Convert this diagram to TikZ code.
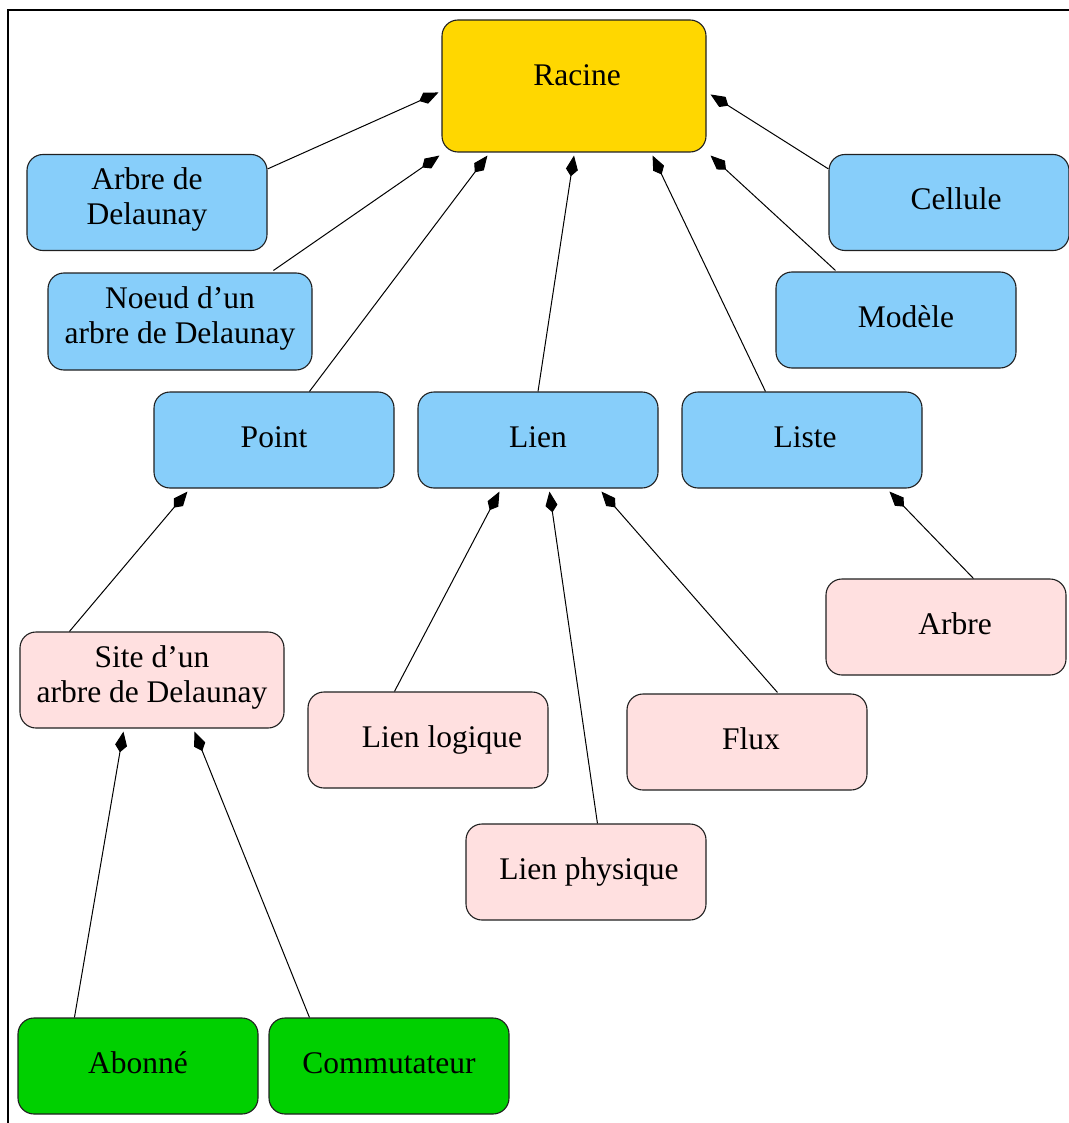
\documentclass[tikz,border=0pt]{standalone}
\usepackage{fontspec}
\setmainfont{Liberation Serif}
\usetikzlibrary{arrows.meta,calc}
\definecolor{cgold}{HTML}{FFD700}
\definecolor{cblue}{HTML}{87CEFA}
\definecolor{cpink}{HTML}{FFE0E0}
\definecolor{cgreen}{HTML}{00D000}
\definecolor{cborder}{HTML}{202020}
\tikzset{
  box/.style={draw=cborder, line width=1.1pt, rounded corners=16pt, inner sep=0pt,
    minimum width=240pt, minimum height=96pt, align=center,
    font=\fontsize{31.5}{35}\selectfont},
  one/.style={text height=22pt, text depth=8pt},
  two/.style={text depth=12pt},
  bluebox/.style={box, fill=cblue},
  pinkbox/.style={box, fill=cpink},
  greenbox/.style={box, fill=cgreen},
  goldbox/.style={box, fill=cgold},
  conn/.style={draw=black, line width=1pt, -{Kite[length=21pt,width=12pt,inset=7pt]}},
  frameline/.style={draw=black, line width=1.3pt}
}
\begin{document}
\begin{tikzpicture}[x=1pt,y=-1pt]
\useasboundingbox (0,0) rectangle (1068,1123);
\coordinate (fa) at (8,1130);
\coordinate (fb) at (8,10);
\coordinate (fc) at (1075,10);
\draw[frameline] (fa) -- (fb) -- (fc);

\node[goldbox, text height=22pt, text depth=22pt, minimum width=264pt, minimum height=132pt] (racine) at (574,86) {\hspace*{6pt}Racine};
\node[bluebox, two] (arbreD) at (147,202.5) {Arbre de\\Delaunay};
\node[bluebox, two, minimum width=264pt, minimum height=97pt] (noeud) at (180,321.5) {Noeud d’un\\arbre de Delaunay};
\node[bluebox, one] (point) at (274,440) {Point};
\node[bluebox, one] (lien) at (538,440) {Lien};
\node[bluebox, one] (liste) at (802,440) {\hspace*{6pt}Liste};
\node[bluebox, one] (cellule) at (949,202.5) {\hspace*{14pt}Cellule};
\node[bluebox, one] (modele) at (896,320) {\hspace*{20pt}Modèle};
\node[pinkbox, two, minimum width=264pt] (site) at (152,680) {Site d’un\\arbre de Delaunay};
\node[pinkbox, one] (arbre) at (946,627) {\hspace*{18pt}Arbre};
\node[pinkbox, one] (llog) at (428,740) {\hspace*{28pt}Lien logique};
\node[pinkbox, one] (flux) at (747,742) {\hspace*{8pt}Flux};
\node[pinkbox, one] (lphys) at (586,872) {\hspace*{6pt}Lien physique};
\node[greenbox, one] (abonne) at (138,1066) {Abonné};
\node[greenbox, one] (comm) at (389,1066) {Commutateur};

\draw[conn] ($(arbreD.north east)+(0,15)$) -- ($(racine.north west)+(-3,73)$);
\draw[conn] ($(noeud.north west)+(226,-2)$) -- ($(racine.south west)+(-2,3)$);
\draw[conn] ($(point.north west)+(156,0)$) -- ($(racine.south west)+(46,3)$);
\draw[conn] (lien.north) -- ($(racine.south)+(0,3)$);
\draw[conn] ($(liste.north west)+(84,0)$) -- ($(racine.south east)+(-54,3)$);
\draw[conn] ($(modele.north west)+(60,-1)$) -- ($(racine.south east)+(4,3)$);
\draw[conn] ($(cellule.north west)+(0,15)$) -- ($(racine.north east)+(4,75)$);
\draw[conn] ($(site.north west)+(50,0)$) -- ($(point.south west)+(34,3)$);
\draw[conn] ($(llog.north west)+(87,0)$) -- ($(lien.south west)+(82,3)$);
\draw[conn] ($(lphys.north west)+(132,0)$) -- ($(lien.south west)+(132,3)$);
\draw[conn] ($(flux.north west)+(151,-1)$) -- ($(lien.south west)+(184,3)$);
\draw[conn] ($(arbre.north west)+(148,0)$) -- ($(liste.south west)+(208,3)$);
\draw[conn] ($(abonne.north west)+(57,0)$) -- ($(site.south west)+(104,3)$);
\draw[conn] ($(comm.north west)+(41,0)$) -- ($(site.south west)+(175,3)$);
\end{tikzpicture}
\end{document}
